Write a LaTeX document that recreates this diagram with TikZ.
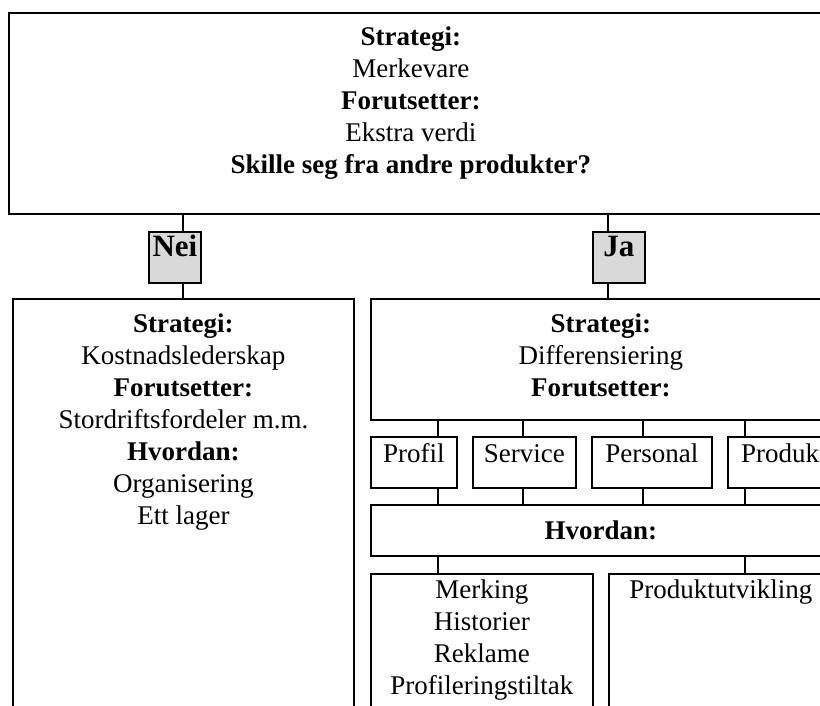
\documentclass[tikz,border=0pt]{standalone}
\usepackage{fontspec}
\setmainfont{Liberation Serif}
\usepackage{tikz}

\newcommand{\tekstboks}[4]{\parbox[c][#2][t]{#1}{\centering\rule{0pt}{#3}#4}}

\begin{document}
\begin{tikzpicture}[x=0.5pt,y=-0.5pt,
		font=\fontsize{13.5}{16}\selectfont,
		boks/.style={draw,line width=0.9pt,inner sep=0pt,anchor=north west},
		valg/.style={boks,fill=black!15,font=\fontsize{15.5}{16}\selectfont},
		linje/.style={line width=0.7pt}]
		
		\useasboundingbox (0,0) rectangle (820,706);
		
		\clip (0,0) rectangle (820,706);
		
		\node[boks] (topp) at (8,12)
		{\tekstboks{402pt}{100.5pt}{16.5pt}{\textbf{Strategi:}\\Merkevare\\
			\textbf{Forutsetter:}\\Ekstra verdi\\
			\textbf{Skille seg fra andre produkter?}}\hspace*{20pt}};
		
		\node[valg] (nei) at (148,231) {\tekstboks{26pt}{25.5pt}{12.5pt}{\textbf{Nei}}};
		
		\node[valg] (ja) at (592,231) {\tekstboks{26pt}{25.5pt}{12.5pt}{\textbf{Ja}}};
		
		\node[boks] (kostnad) at (12,298)
		{\tekstboks{170.5pt}{225pt}{17pt}{\textbf{Strategi:}\\Kostnadslederskap\\
			\textbf{Forutsetter:}\\Stordriftsfordeler m.m.\\
			\textbf{Hvordan:}\\Organisering\\Ett lager}};
		
		\node[boks] (diff) at (370,298)
		{\tekstboks{230pt}{60.5pt}{17pt}{\textbf{Strategi:}\\Differensiering\\
			\textbf{Forutsetter:}}};
		
		\node[boks] (profil) at (370,436) {\tekstboks{43pt}{25.5pt}{13pt}{Profil}};
		
		\node[boks] (service) at (472,436) {\tekstboks{51.5pt}{25.5pt}{13pt}{Service}};
		
		\node[boks] (personal) at (591,436) {\tekstboks{60pt}{25.5pt}{13pt}{Personal}};
		
		\node[boks] (produkt) at (727,436) {\tekstboks{56pt}{25.5pt}{13pt}{Produkt}};
		
		\node[boks] (hvordan) at (370,504) {\tekstboks{230pt}{25.5pt}{17.5pt}{\textbf{Hvordan:}}};
		
		\node[boks] (merking) at (370,573)
		{\tekstboks{111pt}{100pt}{12.5pt}{Merking\\Historier\\Reklame\\Profileringstiltak}};
		
		\node[boks] (utvikling) at (608,573) {\tekstboks{112pt}{100pt}{12.5pt}{Produktutvikling}};
		
		\coordinate (xnei) at (183,0);
		\coordinate (xja) at (608,0);
		\coordinate (k1) at (438,0);
		\coordinate (k2) at (523,0);
		\coordinate (k3) at (643,0);
		\coordinate (k4) at (745,0);
		
		\draw[linje] (xnei |- topp.south) -- (xnei |- nei.north);
		\draw[linje] (xja |- topp.south) -- (xja |- ja.north);
		\draw[linje] (xnei |- nei.south) -- (xnei |- kostnad.north);
		\draw[linje] (xja |- ja.south) -- (xja |- diff.north);
		
		\draw[linje] (k1 |- diff.south) -- (k1 |- profil.north);
		\draw[linje] (k2 |- diff.south) -- (k2 |- service.north);
		\draw[linje] (k3 |- diff.south) -- (k3 |- personal.north);
		\draw[linje] (k4 |- diff.south) -- (k4 |- produkt.north);
		
		\draw[linje] (k1 |- profil.south) -- (k1 |- hvordan.north);
		\draw[linje] (k2 |- service.south) -- (k2 |- hvordan.north);
		\draw[linje] (k3 |- personal.south) -- (k3 |- hvordan.north);
		\draw[linje] (k4 |- produkt.south) -- (k4 |- hvordan.north);
		
		\draw[linje] (k1 |- hvordan.south) -- (k1 |- merking.north);
		\draw[linje] (k4 |- hvordan.south) -- (k4 |- utvikling.north);
		
	\end{tikzpicture}
\end{document}
